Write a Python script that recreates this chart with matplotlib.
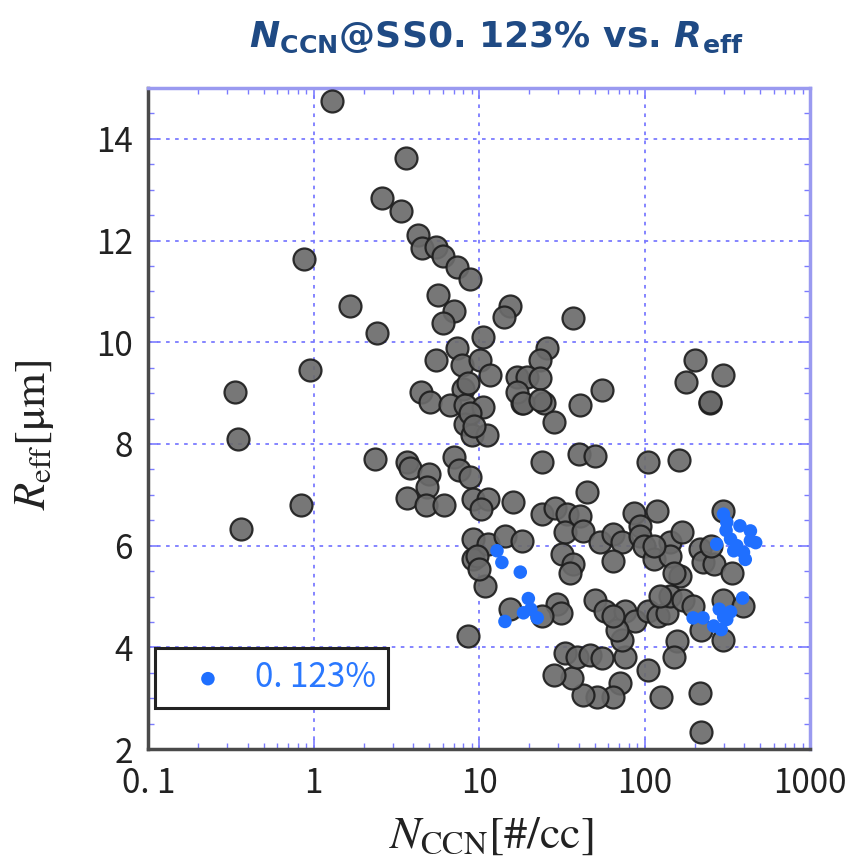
import matplotlib
matplotlib.use("Agg")
import matplotlib.pyplot as plt
import matplotlib.ticker as mticker

# gray points: N_CCN [#/cc], R_eff [um]
gray_n = [1.29, 3.6, 2.6, 3.37, 4.27, 4.51, 5.5, 6.0, 7.33, 8.83, 0.87, 1.66, 2.41,
          5.62, 7.0, 6.03, 0.953, 0.336, 5.47, 7.33, 7.9, 4.47, 5.06, 8.0, 10.5,
          0.348, 0.84, 0.365, 2.36, 3.66, 3.83, 4.99, 4.83, 3.66, 4.77, 6.14,
          7.0, 7.5, 8.8, 9.2, 9.2, 9.2, 10.9, 8.6,
          6.69, 8.2, 10.6, 18.1, 24.5, 28.1, 40.7, 249, 8.2, 9.0, 11.1,
          23.9, 39.8, 50.2, 105, 160, 11.3, 10.3, 16.1, 23.9, 28.8, 44.7,
          33.8, 40.7, 33.1, 42.5, 31.6, 37.1, 35.3, 53.8, 64.7, 72.8, 64.7,
          85.8, 93.5, 93.5, 118.5, 98.7, 113, 142.6, 142.6, 164, 167, 216,
          226, 261, 299, 336, 253, 50.2, 57.8, 76, 87, 105, 121, 136, 142.6,
          170, 196, 220, 299, 395, 299, 157, 150, 105, 126, 216, 220, 71,
          64.7, 51.5, 42.5, 36.4, 28.1, 33.1, 38.7, 47, 55, 76, 72.8, 68,
          64.7, 29.5, 31, 23.9, 15.4, 11.3, 14.3, 18.1, 9.7, 9.9, 113, 150,
          124, 15.4, 14.1, 37.1, 25.6, 23.3, 10.1, 11.6, 16.9, 19.3, 23.3,
          16.9, 18.5, 23.3, 55, 202, 178, 299, 249, 8.5, 8.8, 9.3]
gray_r = [14.75, 13.62, 12.83, 12.59, 12.10, 11.85, 11.88, 11.70, 11.49, 11.25,
          11.64, 10.72, 10.19, 10.92, 10.61, 10.37, 9.46, 9.02, 9.65, 9.89, 9.55,
          9.03, 8.82, 9.09, 10.11, 8.10, 6.80, 6.33, 7.71, 7.64, 7.52, 7.40,
          7.15, 6.94, 6.80, 6.80, 7.74, 7.48, 7.36, 6.92, 6.13, 5.73, 5.21,
          4.23, 8.77, 8.77, 8.73, 8.80, 8.80, 8.43, 8.77, 8.80, 8.40, 8.17,
          8.17, 7.64, 7.81, 7.77, 7.64, 7.68, 6.92, 6.72, 6.85, 6.62, 6.75,
          7.05, 6.62, 6.59, 6.26, 6.29, 5.83, 5.64, 5.47, 6.07, 6.23, 6.07,
          5.70, 6.65, 6.39, 6.19, 6.69, 6.00, 5.73, 6.07, 5.80, 5.41, 6.26,
          5.93, 5.67, 5.64, 6.69, 5.47, 6.00, 4.94, 4.71, 4.71, 4.51, 4.71,
          4.61, 4.68, 5.01, 4.94, 4.81, 4.35, 4.94, 4.81, 4.15, 4.12, 3.82,
          3.56, 3.03, 3.10, 2.34, 3.30, 3.03, 3.03, 3.07, 3.40, 3.46, 3.89,
          3.82, 3.86, 3.79, 3.82, 4.15, 4.35, 4.61, 4.85, 4.68, 4.61, 4.75,
          6.03, 6.20, 6.10, 5.80, 5.54, 6.00, 5.47, 5.01, 10.71, 10.49, 10.48,
          9.89, 9.65, 9.65, 9.36, 9.32, 9.32, 9.29, 9.03, 8.80, 8.86, 9.06,
          9.65, 9.22, 9.36, 8.83, 9.20, 8.60, 8.35]

# blue points: SS 0.123%
blue_n = [12.8, 13.7, 17.7, 19.8, 18.5, 22.4, 14.3, 20.5, 299, 313, 376, 435,
          468, 395, 405, 272, 330, 345, 435, 310, 360, 390, 282, 313, 225, 196,
          261, 290, 300, 330]
blue_r = [5.90, 5.67, 5.48, 4.96, 4.68, 4.58, 4.51, 4.75, 6.62, 6.46, 6.39,
          6.29, 6.06, 5.87, 5.73, 6.03, 6.13, 5.90, 6.10, 6.30, 6.00, 4.97,
          4.75, 4.55, 4.58, 4.58, 4.42, 4.35, 4.60, 4.70]

x_ticks = [0.1, 1, 10, 100, 1000]
x_ticklabels = ["0. 1", "1", "10", "100", "1000"]
y_ticks = [2, 4, 6, 8, 10, 12, 14]

tick_font = ["Noto Sans CJK JP", "DejaVu Sans"]
frame_blue = "#9a9af0"
grid_blue = "#7b7bff"

fig = plt.figure(figsize=(8.52, 8.63), dpi=100)
ax = fig.add_axes([0.174, 0.132, 0.777, 0.766])

ax.scatter(gray_n, gray_r, s=250, facecolor="#6b6b6b", edgecolor="#1e1e1e",
           linewidth=1.6, alpha=0.92, zorder=3)
ax.scatter(blue_n, blue_r, s=95, color="#1f6fff", edgecolor="none", zorder=4,
           label="0. 123%")

ax.set_xscale("log")
ax.set_xlim(0.1, 1000)
ax.set_ylim(2, 15)
ax.set_xticks(x_ticks)
ax.set_xticklabels(x_ticklabels)
ax.xaxis.set_minor_locator(mticker.LogLocator(base=10, subs=range(2, 10)))
ax.xaxis.set_minor_formatter(mticker.NullFormatter())
ax.set_yticks(y_ticks)
ax.yaxis.set_minor_locator(mticker.MultipleLocator(0.5))

ax.grid(True, which="major", color=grid_blue, linestyle=(0, (2, 3)), linewidth=1.3)
ax.set_axisbelow(True)

ax.tick_params(which="both", direction="in", top=True, right=True,
               color=grid_blue, labelsize=24, labelcolor="#222222")
ax.tick_params(which="major", length=7, width=1.2)
ax.tick_params(which="minor", length=4, width=1)
ax.tick_params(axis="x", pad=12)
ax.tick_params(axis="y", pad=11)
for lab in ax.get_xticklabels() + ax.get_yticklabels():
    lab.set_family(tick_font)
for lab in ax.get_yticklabels():
    lab.set_verticalalignment("center_baseline")

for side in ["top", "right"]:
    ax.spines[side].set_color(frame_blue)
    ax.spines[side].set_linewidth(2.5)
for side in ["left", "bottom"]:
    ax.spines[side].set_color("#4a4a4a")
    ax.spines[side].set_linewidth(2.5)

leg = ax.legend(loc="lower left", bbox_to_anchor=(0.0106, 0.062), borderaxespad=0,
                fancybox=False, edgecolor="#222222", framealpha=1,
                handlelength=2.4, handletextpad=0.2, borderpad=0.38,
                prop={"family": tick_font, "size": 24})
leg.get_frame().set_linewidth(2.2)
for t in leg.get_texts():
    t.set_color("#2a78ff")

fig.text(0.583, 0.957,
         r"$\mathbfit{N}_{\mathbf{CCN}}$@SS0. 123% vs. $\mathbfit{R}_{\mathbf{eff}}$",
         ha="center", va="center", fontsize=26, fontweight="bold",
         color="#1f4a84", math_fontfamily="dejavusans")
fig.text(0.576, 0.03, r"$N_{\mathrm{CCN}}$[#/cc]", ha="center", va="center",
         fontsize=33, family="STIXGeneral", math_fontfamily="stix", color="#222222")
fig.text(0.041, 0.496, r"$R_{\mathrm{eff}}$[μm]", ha="center", va="center",
         rotation=90, fontsize=32, family="STIXGeneral", math_fontfamily="stix",
         color="#222222")

fig.savefig("out.png", dpi=100, facecolor="white")
